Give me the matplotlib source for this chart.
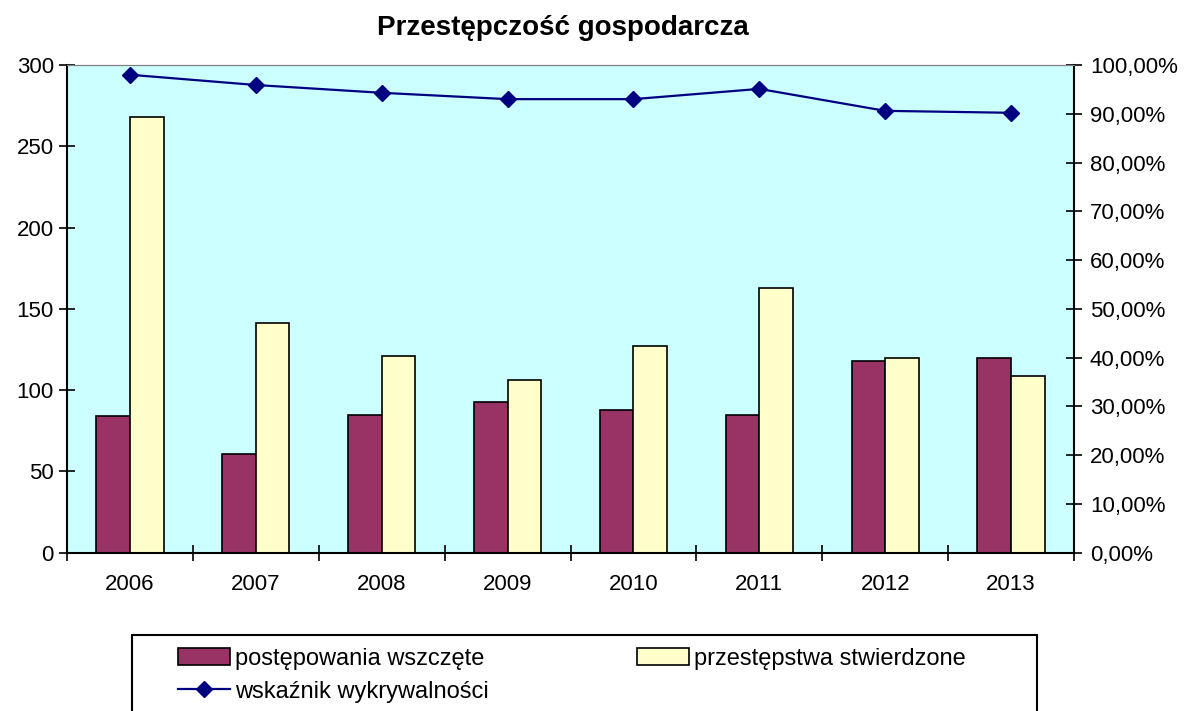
import matplotlib.pyplot as plt
import numpy as np
from matplotlib.patches import Rectangle
from matplotlib.ticker import FuncFormatter, MultipleLocator

plt.rcParams['font.family'] = ['Liberation Sans', 'DejaVu Sans']

lata = ['2006', '2007', '2008', '2009', '2010', '2011', '2012', '2013']
wszczete = [84, 61, 85, 93, 88, 85, 118, 120]
stwierdzone = [268, 141, 121, 106, 127, 163, 120, 109]
wykrywalnosc = [0.98, 0.959, 0.943, 0.930, 0.930, 0.951, 0.906, 0.902]

W, H = 1196, 711
fig = plt.figure(figsize=(W/100, H/100), dpi=100)
ax = fig.add_axes([67/W, 1 - 552.7/H, (1074 - 67)/W, (552.7 - 65)/H])
ax.set_facecolor('#CCFFFF')

x = np.arange(len(lata))
w = 0.267
b1 = ax.bar(x - w/2, wszczete, w, color='#993366', edgecolor='black', linewidth=1.2, zorder=2)
b2 = ax.bar(x + w/2, stwierdzone, w, color='#FFFFCC', edgecolor='black', linewidth=1.2, zorder=2)

ax.set_xlim(-0.5, len(lata) - 0.5)
ax.set_ylim(0, 300)
ax.yaxis.set_major_locator(MultipleLocator(50))
ax.set_xticks(x)
ax.set_xticklabels(lata)
ax.set_xticks(np.arange(len(lata) + 1) - 0.5, minor=True)
ax.tick_params(axis='x', which='major', length=0, labelsize=16, pad=15)
ax.tick_params(axis='x', which='minor', direction='inout', length=11, width=1.2)
ax.tick_params(axis='y', direction='inout', length=11, width=1.2, labelsize=16, pad=4)

for s in ['left', 'bottom']:
    ax.spines[s].set_linewidth(1.5)
ax.spines['top'].set_color('#808080')
ax.spines['right'].set_visible(False)

ax2 = ax.twinx()
ln, = ax2.plot(x, wykrywalnosc, color='#000080', marker='D', markersize=8,
               linewidth=1.6)
ax2.set_ylim(0, 1)
ax2.yaxis.set_major_locator(MultipleLocator(0.1))
ax2.yaxis.set_major_formatter(FuncFormatter(lambda v, p: f'{v*100:.2f}%'.replace('.', ',')))
ax2.tick_params(axis='y', direction='inout', length=11, width=1.2, labelsize=16, pad=6)
ax2.spines['right'].set_linewidth(1.5)
ax2.spines['top'].set_color('#808080')
for s in ['left', 'bottom']:
    ax2.spines[s].set_visible(False)

fig.text(563/W, 1 - 28/H, 'Przestępczość gospodarcza', ha='center', va='center',
         fontsize=20, fontweight='bold')

# ramka legendy (dolna krawedz poza obrazkiem)
fig.patches.append(Rectangle((132/W, 0 - 0.05), (1037 - 132)/W, (H - 635)/H + 0.05,
                             transform=fig.transFigure, facecolor='white',
                             edgecolor='black', linewidth=1.5, zorder=0))

leg = fig.legend([b1, ln, b2], ['postępowania wszczęte', 'wskaźnik wykrywalności',
                                'przestępstwa stwierdzone'],
                 loc='upper left', bbox_to_anchor=(178/W, 1 - 648/H), ncol=2,
                 fontsize=17, handlelength=2.2, handleheight=0.75, handletextpad=0.2,
                 columnspacing=6.3, borderpad=0, borderaxespad=0, labelspacing=0.45,
                 frameon=False)

fig.savefig('out.png', dpi=100)
